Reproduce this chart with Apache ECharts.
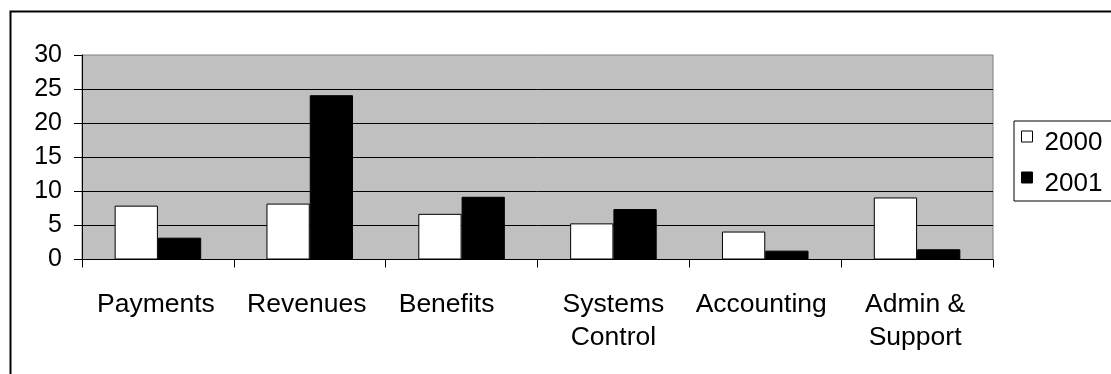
<!DOCTYPE html>
<html>
<head>
<meta charset="utf-8">
<script src="https://cdn.jsdelivr.net/npm/echarts@6/dist/echarts.min.js"></script>
<style>
  html, body { margin: 0; padding: 0; background: #ffffff; }
  #chart { width: 1111px; height: 374px; }
</style>
</head>
<body>
<div id="chart"></div>
<script>
// Headcount by division, two years side by side
const categories = ['Payments', 'Revenues', 'Benefits', 'Systems\nControl', 'Accounting', 'Admin &\nSupport'];
const values2000 = [7.9, 8.2, 6.7, 5.3, 4.1, 9.1];
const values2001 = [3.2, 24.1, 9.2, 7.4, 1.3, 1.5];
const seriesNames = ['2000', '2001'];
const yTicks = { min: 0, max: 30, interval: 5 };

const FONT = "'Liberation Sans', Arial, sans-serif";

// horizontal nudge (px) for individual category labels
const labelNudge = [-2, -3, -15, 0, -4, -2];

// square swatch sitting at the top of a taller icon box
const swatch = 'path://M0,0L11,0L11,11L0,11Z M0,24';

const axisCategories = categories.map((name, i) => {
  const n = labelNudge[i];
  return {
    value: name,
    textStyle: { padding: n < 0 ? [0, -2 * n, 0, 0] : [0, 0, 0, 2 * n] }
  };
});

const chart = echarts.init(document.getElementById('chart'), null, { renderer: 'canvas' });

chart.setOption({
  animation: false,
  backgroundColor: '#ffffff',
  textStyle: { fontFamily: FONT, color: '#000' },
  graphic: [{
    type: 'rect',
    left: 8, top: 9,
    shape: { x: 0, y: 0, width: 1300, height: 600 },
    style: { fill: 'none', stroke: '#000', lineWidth: 2 },
    silent: true,
    z: -1
  }],
  legend: {
    orient: 'vertical',
    left: 1014,
    top: 121,
    padding: [9, 40, 4, 7],
    itemGap: 15,
    itemWidth: 11,
    itemHeight: 24,
    icon: swatch,
    borderColor: '#000',
    borderWidth: 1,
    selectedMode: false,
    itemStyle: { borderColor: '#000', borderWidth: 1 },
    textStyle: {
      fontFamily: FONT, fontSize: 26, color: '#000',
      lineHeight: 24, padding: [0, 0, 0, 7]
    },
    data: seriesNames
  },
  grid: {
    left: 82, right: 118, top: 55, bottom: 114.5,
    show: true,
    backgroundColor: '#c0c0c0',
    borderColor: '#808080',
    borderWidth: 1
  },
  xAxis: {
    type: 'category',
    data: axisCategories,
    axisLine: { lineStyle: { color: '#000', width: 1 } },
    axisTick: { show: true, length: 8, lineStyle: { color: '#000' } },
    axisLabel: {
      fontFamily: FONT, fontSize: 26.5, color: '#000',
      lineHeight: 33, margin: 29, interval: 0
    }
  },
  yAxis: {
    type: 'value',
    min: yTicks.min, max: yTicks.max, interval: yTicks.interval,
    axisLine: { show: true, lineStyle: { color: '#000', width: 1 } },
    axisTick: { show: true, length: 8, lineStyle: { color: '#000' } },
    axisLabel: { fontFamily: FONT, fontSize: 25, color: '#000', margin: 20 },
    splitLine: { show: true, showMaxLine: false, lineStyle: { color: '#000', width: 1 } }
  },
  series: [
    {
      name: seriesNames[0], type: 'bar', data: values2000,
      barGap: '0%', barCategoryGap: '43%',
      itemStyle: { color: '#ffffff', borderColor: '#000', borderWidth: 1 }
    },
    {
      name: seriesNames[1], type: 'bar', data: values2001,
      barGap: '0%', barCategoryGap: '43%',
      itemStyle: { color: '#000000', borderColor: '#000', borderWidth: 1 }
    }
  ]
});
</script>
</body>
</html>
